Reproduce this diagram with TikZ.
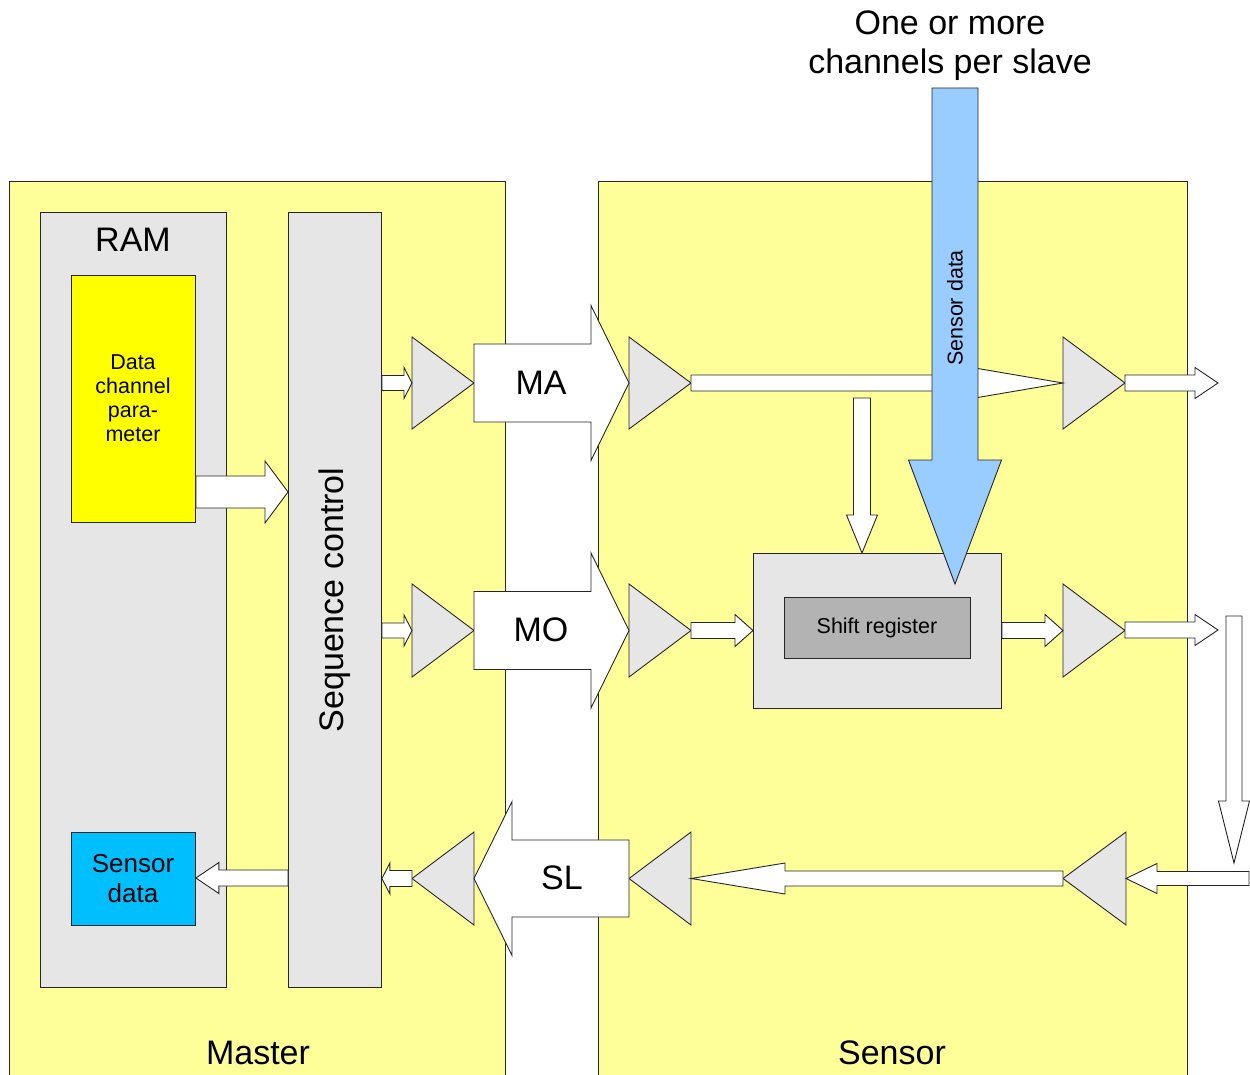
\documentclass[tikz,border=0pt]{standalone}
\usepackage{fontspec}
\setmainfont{Liberation Sans}
\usetikzlibrary{calc}
\definecolor{bgyel}{HTML}{FFFF99}
\definecolor{boxgray}{HTML}{E6E6E6}
\definecolor{paryel}{HTML}{FFFF00}
\definecolor{sdblue}{HTML}{00BFFF}
\definecolor{arrblue}{HTML}{99CCFF}
\definecolor{regray}{HTML}{B3B3B3}
\newcommand\fatH[6]{%
 \filldraw[arrowst,fill=#6] let \p1=(#1), \p2=(#2) in
 (\x1,{\y2+#3}) -- ({\x2-(#5)},{\y2+#3}) -- ({\x2-(#5)},{\y2+#4}) -- (\x2,\y2) -- ({\x2-(#5)},{\y2-#4}) -- ({\x2-(#5)},{\y2-#3}) -- (\x1,{\y2-#3}) -- cycle;}
\newcommand\fatV[6]{%
 \filldraw[arrowst,fill=#6] let \p1=(#1), \p2=(#2) in
 ({\x2+#3},\y1) -- ({\x2+#3},{\y2+(#5)}) -- ({\x2+#4},{\y2+(#5)}) -- (\x2,\y2) -- ({\x2-#4},{\y2+(#5)}) -- ({\x2-#3},{\y2+(#5)}) -- ({\x2-#3},\y1) -- cycle;}
\newcommand\ampl[5]{%
 \filldraw[ampst] (#2,#4-#5) -- (#3,#4) -- (#2,#4+#5) -- cycle;
 \coordinate (#1-in) at (#2,#4); \coordinate (#1-out) at (#3,#4);}
\begin{document}
\begin{tikzpicture}[x=1pt,y=-1pt,
  edge/.style={draw=black!85,line width=0.9pt},
  arrowst/.style={edge,line join=miter},
  ampst/.style={edge,fill=boxgray},
  panel/.style={edge,fill=bgyel,inner sep=0pt,anchor=north west},
  gbox/.style={edge,fill=boxgray,inner sep=0pt,anchor=north west},
  big/.style={font=\fontsize{34}{39}\selectfont},
  mid/.style={font=\fontsize{26}{30}\selectfont},
  small/.style={font=\fontsize{21.5}{24}\selectfont}]
\clip (0,0) rectangle (1250,1075);
\fill[white] (0,0) rectangle (1250,1075);
% panels
\node[panel,minimum width=496pt,minimum height=920pt] (master) at (9,181) {};
\node[panel,minimum width=589pt,minimum height=920pt] (sensor) at (598,181) {};
\node[big] (mlabel) at (258,1053) {Master};
\node[big] (slabel) at (892,1053) {Sensor};
\node[big,align=center] (title) at (950,46) {One or more\\channels per slave};
% master blocks
\node[gbox,minimum width=186pt,minimum height=775pt] (ram) at (40,212) {};
\node[big] (ramlabel) at (133,240) {RAM};
\node[gbox,fill=paryel,minimum width=124pt,minimum height=247pt] (par) at (71,275) {};
\node[small,align=center] (partext) at (133,398) {Data\\channel\\para-\\meter};
\node[gbox,fill=sdblue,minimum width=124pt,minimum height=93pt] (sdata) at (71,832) {};
\node[mid,align=center] (sdtext) at (133,879) {Sensor\\data};
\node[gbox,minimum width=93pt,minimum height=775pt] (seq) at (288,212) {};
\node[big,rotate=90] (seqtext) at (335,600) {Sequence control};
% shift register
\node[gbox,minimum width=248pt,minimum height=155pt] (sr) at (753,553) {};
\node[gbox,fill=regray,minimum width=186pt,minimum height=61pt,small] (srin) at (784,597) {};
\node[small] (srtext) at (877,628) {Shift register};
% amplifiers
\ampl{t1}{412}{474}{383}{46}
\ampl{t2}{629}{691}{383}{46}
\ampl{t3}{1063}{1125}{383}{46}
\ampl{t4}{412}{474}{630.5}{46.5}
\ampl{t5}{629}{691}{630.5}{46.5}
\ampl{t6}{1063}{1125}{630.5}{46.5}
\ampl{t7}{474}{412}{878.5}{46.5}
\ampl{t8}{691}{629}{878.5}{46.5}
\ampl{t9}{1126}{1063}{878.5}{46.5}
% left block arrows
\fatH{par.east |- 0,492}{seq.west |- 0,492}{16}{31}{23}{white}
\fatH{seq.west |- 0,878}{sdata.east |- 0,878}{8}{15.5}{-23}{white}
% MA row
\fatH{seq.east |- t1-in}{t1-in}{7.5}{15.5}{8}{white}
\fatH{t1-out}{t2-in}{39}{77.5}{38}{white}
\node[big] (ma) at (541,383) {MA};
\fatH{t2-out}{t3-in}{8}{17}{100}{white}
\coordinate (outma) at (1218,383);
\fatH{t3-out}{outma}{8}{15.5}{23}{white}
\coordinate (tapma) at (862,398);
\fatV{tapma}{sr.north -| tapma}{8.5}{15.5}{38}{white}
% MO row
\fatH{seq.east |- t4-in}{t4-in}{7.5}{15.5}{8}{white}
\fatH{t4-out}{t5-in}{39}{77.5}{38}{white}
\node[big] (mo) at (541,630) {MO};
\fatH{t5-out}{sr.west |- t5-out}{8}{16}{18}{white}
\fatH{sr.east |- t6-in}{t6-in}{8}{16}{18}{white}
\coordinate (outmo) at (1218,630);
\fatH{t6-out}{outmo}{8}{15.5}{23}{white}
% return path
\coordinate (rettop) at (1234,616);
\coordinate (retbot) at (1234,863);
\fatV{rettop}{retbot}{8}{15.5}{62}{white}
\coordinate (retin) at (1249,878.5);
\fatH{retin}{t9-in}{7}{15}{-31}{white}
\fatH{t9-out}{t8-in}{7.5}{15.5}{-94}{white}
\fatH{t8-out}{t7-in}{38.5}{77}{-38}{white}
\node[big] (sl) at (562,878) {SL};
\fatH{t7-out}{seq.east |- t7-out}{8}{15.5}{-8}{white}
% sensor data input
\coordinate (sdtop) at (955,88);
\coordinate (sdtip) at (955,584);
\fatV{sdtop}{sdtip}{23}{46.5}{124}{arrblue}
\node[small,rotate=90] (sdlabel) at (955,308) {Sensor data};
\end{tikzpicture}
\end{document}
